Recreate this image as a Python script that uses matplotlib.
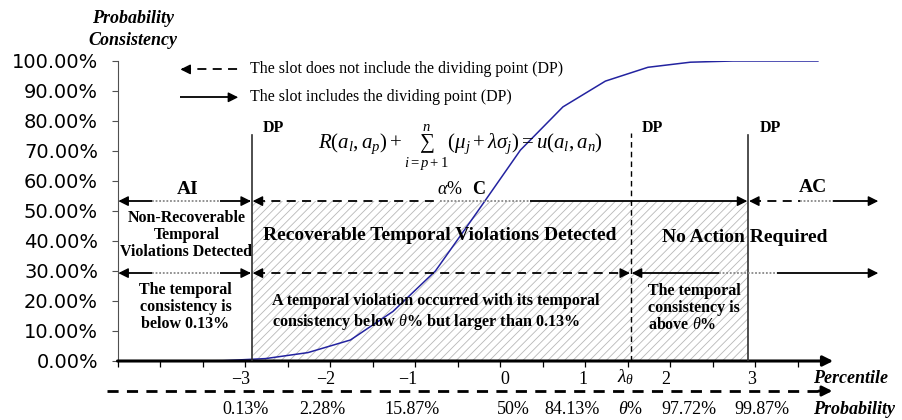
import matplotlib
matplotlib.use('Agg')
import matplotlib.pyplot as plt
from matplotlib.patches import Rectangle

# percentile position of each plotted point and the consistency (%)
percentile = [-4.26, -3.76, -3.26, -2.76, -2.26, -1.76, -1.26, -0.76, -0.26,
              0.24, 0.74, 1.24, 1.74, 2.24, 2.74, 3.24, 3.74]
consistency = [0.0, 0.0, 0.1, 0.8, 2.8, 7.0, 16.5, 30.0, 50.0,
               70.3, 84.7, 93.3, 97.9, 99.6, 100.0, 100.0, 100.0]

pct_labels = ['\u22123', '\u22122', '\u22121', '0', '1', '2', '3']
pct_label_pos = [-3.05, -2.05, -1.08, 0.06, 0.98, 1.95, 2.96]
prob_labels = ['0.13%', '2.28%', '15.87%', '50%', '84.13%', '97.72%', '99.87%']
prob_label_pos = [-2.99, -2.09, -1.04, 0.16, 0.85, 2.22, 3.08]
y_ticks = [0, 10, 20, 30, 40, 50, 60, 70, 80, 90, 100]

theta_pos = 1.54          # lambda_theta
dp_left, dp_right = -2.92, 2.92
upper_level, lower_level = 53.3, 29.3   # alpha% C level / theta% level

plt.rcParams['font.family'] = 'Liberation Serif'
plt.rcParams['mathtext.fontset'] = 'custom'
plt.rcParams['mathtext.rm'] = 'Liberation Serif'
plt.rcParams['mathtext.it'] = 'Liberation Serif:italic'
plt.rcParams['mathtext.bf'] = 'Liberation Serif:bold'
plt.rcParams['hatch.linewidth'] = 0.6

HEAD = '-|>,head_length=0.6,head_width=0.3'


def head(ax, x, y, d):
    # small filled arrow head pointing in direction d (+1 right, -1 left)
    ax.annotate('', xy=(x, y), xytext=(x - d * 0.05, y),
                arrowprops=dict(arrowstyle=HEAD, color='k', lw=1, shrinkA=0, shrinkB=0),
                annotation_clip=False)


def seg(ax, x0, x1, y, kind='solid', color='k', lw=1.3):
    styles = {'solid': '-', 'dashed': (0, (5, 3.5)), 'dotted': (0, (1, 1))}
    ax.plot([x0, x1], [y, y], color=color, lw=lw, ls=styles[kind],
            clip_on=False, solid_capstyle='butt', zorder=4)


fig = plt.figure(figsize=(9.02, 4.2), dpi=100)
ax = fig.add_axes([117.5 / 902, 59 / 420, 765 / 902, 300 / 420])
ax.set_xlim(-4.5, 4.5)
ax.set_ylim(0, 100)

# hatched recoverable region
ax.add_patch(Rectangle((dp_left, 0), dp_right - dp_left, upper_level, facecolor='none',
                       edgecolor='#b8b8b8', hatch='////', lw=0, zorder=1))

ax.plot(percentile, consistency, color='#2323a0', lw=1.1, zorder=3)

# axes styling
for s in ['top', 'right', 'bottom']:
    ax.spines[s].set_visible(False)
ax.spines['left'].set_color('#505050')
ax.spines['left'].set_linewidth(0.8)
ax.set_yticks(y_ticks)
ax.set_yticklabels(['%.2f%%' % v for v in y_ticks], family='DejaVu Sans', fontsize=14)
ax.tick_params(axis='y', direction='out', length=4, width=0.8, color='#505050', pad=10)
ax.set_xticks([-4.5 + 0.5 * i for i in range(17)])
ax.set_xticklabels([])
ax.tick_params(axis='x', direction='out', length=4, width=0.9)
ax.annotate('', xy=(3.92, 0), xytext=(-4.5, 0),
            arrowprops=dict(arrowstyle=HEAD, color='k', lw=2.2, shrinkA=0, shrinkB=0),
            annotation_clip=False)

# percentile / probability rows
for p, lab in zip(pct_label_pos, pct_labels):
    ax.text(p, -6.3, lab, ha='center', va='center', fontsize=13, clip_on=False)
for p, pr in zip(prob_label_pos, prob_labels):
    ax.text(p, -16, pr, ha='center', va='center', fontsize=13, clip_on=False)
ax.text(theta_pos - 0.06, -5.5, r'$\lambda_\theta$', ha='center', va='center', fontsize=14)
ax.text(theta_pos, -16, r'$\theta$%', ha='center', va='center', fontsize=13)
ax.text(3.68, -5.7, 'Percentile', ha='left', va='center', fontsize=13,
        style='italic', weight='bold')
ax.text(3.68, -16, 'Probability', ha='left', va='center', fontsize=13,
        style='italic', weight='bold')
ax.plot([-4.62, 3.75], [-10, -10], color='k', lw=2, ls=(0, (4, 3)), clip_on=False)
ax.annotate('', xy=(3.91, -10), xytext=(3.75, -10),
            arrowprops=dict(arrowstyle=HEAD, color='k', lw=2, shrinkA=0, shrinkB=0),
            annotation_clip=False)

ax.text(-4.32, 110.5, 'Probability\nConsistency', ha='center', va='center', fontsize=13,
        style='italic', weight='bold', linespacing=1.4)

# legend
head(ax, -3.76, 97.2, -1)
seg(ax, -3.74, -3.08, 97.2, 'dashed')
ax.text(-2.94, 97.2, 'The slot does not include the dividing point (DP)', va='center', fontsize=11.5)
seg(ax, -3.77, -3.12, 87.9, 'solid')
head(ax, -3.08, 87.9, 1)
ax.text(-2.94, 87.9, 'The slot includes the dividing point (DP)', va='center', fontsize=11.5)

# dividing point lines
ax.plot([dp_left, dp_left], [0, 75.3], color='#303030', lw=1.2, zorder=4)
ax.plot([dp_right, dp_right], [0, 75.3], color='#303030', lw=1.2, zorder=4)
ax.plot([theta_pos, theta_pos], [0, 76], color='k', lw=1, ls=(0, (4, 3)), zorder=4)
for x in [dp_left + 0.13, theta_pos + 0.13, dp_right + 0.13]:
    ax.text(x, 77.7, 'DP', ha='left', va='center', fontsize=11.5, weight='bold')

# upper level arrows
seg(ax, -4.47, -4.1, upper_level)
seg(ax, -4.1, -3.3, upper_level, 'dotted', '#888888')
seg(ax, -3.3, dp_left - 0.02, upper_level)
head(ax, -4.49, upper_level, -1)
head(ax, dp_left - 0.01, upper_level, 1)
head(ax, dp_left + 0.01, upper_level, -1)
seg(ax, dp_left + 0.05, -0.71, upper_level, 'dashed')
seg(ax, -0.71, 0.35, upper_level, 'dotted', '#888888')
seg(ax, 0.35, dp_right - 0.05, upper_level)
head(ax, dp_right - 0.01, upper_level, 1)
head(ax, dp_right + 0.01, upper_level, -1)
seg(ax, dp_right + 0.05, 3.53, upper_level, 'dashed')
seg(ax, 3.53, 3.92, upper_level, 'dotted', '#888888')
seg(ax, 3.92, 4.35, upper_level)
head(ax, 4.45, upper_level, 1)

# lower level arrows
seg(ax, -4.47, -4.1, lower_level)
seg(ax, -4.1, -3.3, lower_level, 'dotted', '#888888')
seg(ax, -3.3, dp_left - 0.02, lower_level)
head(ax, -4.49, lower_level, -1)
head(ax, dp_left - 0.01, lower_level, 1)
head(ax, dp_left + 0.01, lower_level, -1)
seg(ax, dp_left + 0.05, theta_pos - 0.05, lower_level, 'dashed')
head(ax, theta_pos - 0.01, lower_level, 1)
head(ax, theta_pos + 0.01, lower_level, -1)
seg(ax, theta_pos + 0.05, 2.58, lower_level)
seg(ax, 2.58, 3.26, lower_level, 'dotted', '#888888')
seg(ax, 3.26, 4.35, lower_level)
head(ax, 4.45, lower_level, 1)

# formula and labels
ax.text(-0.47, 71, r'$R(a_l,a_p)+\sum_{i=p+1}^{n}(\mu_j+\lambda\sigma_j)=u(a_l,a_n)$',
        ha='center', va='center', fontsize=15)
ax.text(-0.74, 57, r'$\alpha$%', ha='left', va='center', fontsize=13)
ax.text(-0.33, 57, 'C', ha='left', va='center', fontsize=13, weight='bold')
ax.text(-3.68, 57, 'AI', ha='center', va='center', fontsize=14, weight='bold')
ax.text(3.68, 57.7, 'AC', ha='center', va='center', fontsize=14, weight='bold')

ax.text(-3.69, 42, 'Non-Recoverable\nTemporal\nViolations Detected', ha='center',
        va='center', fontsize=11.5, weight='bold', linespacing=1.1)
ax.text(-3.7, 18, 'The temporal\nconsistency is\nbelow 0.13%', ha='center',
        va='center', fontsize=11.5, weight='bold', linespacing=1.1)
ax.text(-0.706, 42, 'Recoverable Temporal Violations Detected', ha='center',
        va='center', fontsize=14, weight='bold', zorder=5)
ax.text(2.88, 41.3, 'No Action Required', ha='center', va='center', fontsize=14,
        weight='bold', zorder=5)
ax.text(-2.68, 16.2, 'A temporal violation occurred with its temporal\n'
        r'consistency below $\theta$% but larger than 0.13%', ha='left', va='center',
        fontsize=11.65, weight='bold', linespacing=1.2, zorder=5)
ax.text(1.74, 17.7, 'The temporal\nconsistency is\nabove $\\theta$%', ha='left',
        va='center', fontsize=11.5, weight='bold', linespacing=1.1, zorder=5)

fig.savefig('out.png', dpi=100)
